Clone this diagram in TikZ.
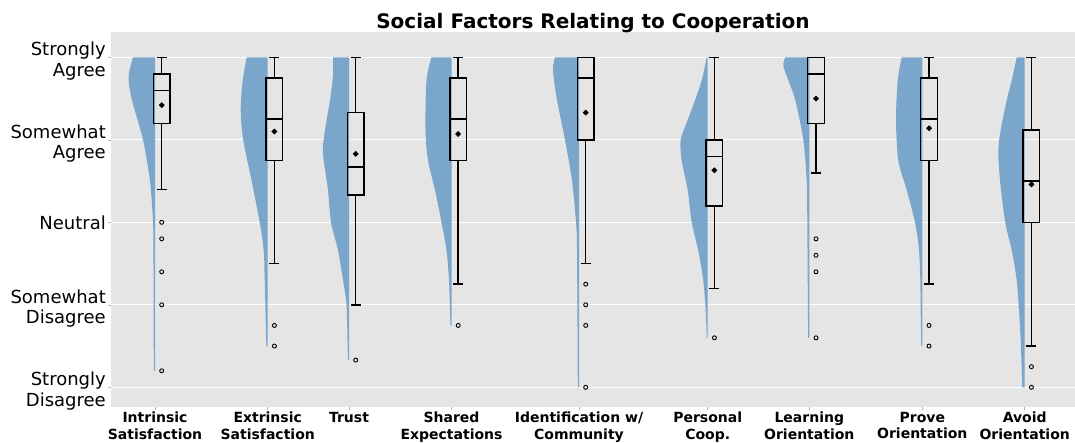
\documentclass[tikz,border=0pt]{standalone}
\usepackage{fontspec}
\setmainfont{DejaVu Sans}

\definecolor{plotbg}{RGB}{229,229,229}
\definecolor{violinblue}{RGB}{122,166,204}

\begin{document}
\begin{tikzpicture}[x=1pt, y=-1pt,
    violin/.style={fill=violinblue, draw=none},
    boxline/.style={draw=black, line width=1.5pt},
    outlier/.style={draw=black, line width=0.9pt},
    gridline/.style={draw=white, line width=0.9pt},
    tickmark/.style={draw=gray!60, line width=0.6pt},
    ylab/.style={anchor=east, align=right, inner sep=0pt, font=\fontsize{18}{20.7}\selectfont},
    xlab/.style={anchor=north, align=center, inner sep=0pt, font=\fontsize{14}{16.5}\selectfont\bfseries}]

    \useasboundingbox (0,0) rectangle (1075,442);
    \fill[plotbg] (111,32) rectangle (1075,407);

    % Likert scale: y = answer value
    \begin{scope}[shift={(0,469.8)}, y=82.5pt]
        \foreach \v in {1,...,5} {
            \draw[gridline] (111,\v) -- (1075,\v);
            \draw[tickmark] (108,\v) -- (111,\v);
        }

        % half violins
        \fill[violin, xshift=155pt] (0,5) -- plot[smooth] coordinates {(-22,5) (-26.5,4.76) (-23,4.48) (-12,4.0) (-5,3.5) (-2,3.0) (-1.5,2.5) (-1.2,1.2)} -- (0,1.2) -- cycle;
        \fill[violin, xshift=267.7pt] (0,5) -- plot[smooth] coordinates {(-21,5) (-25,4.72) (-27,4.36) (-24.5,4.0) (-16,3.5) (-8,3.0) (-4,2.66) (-3,2.3) (-1.5,1.57) (-1,1.5)} -- (0,1.5) -- cycle;
        \fill[violin, xshift=349pt] (0,5) -- plot[smooth] coordinates {(-16,5) (-16,4.78) (-19,4.48) (-24,4.12) (-26,3.84) (-21,3.39) (-18,3.0) (-11,2.66) (-6,2.3) (-2.5,2.0) (-1.5,1.57) (-1,1.33)} -- (0,1.33) -- cycle;
        \fill[violin, xshift=451.5pt] (0,5) -- plot[smooth] coordinates {(-20,5) (-25,4.72) (-26,4.12) (-23.5,3.75) (-16.5,3.39) (-10,3.0) (-5,2.66) (-2.5,2.3) (-1.5,1.93) (-1,1.75)} -- (0,1.75) -- cycle;
        \fill[violin, xshift=579pt] (0,5) -- plot[smooth] coordinates {(-24,5) (-26,4.84) (-22,4.48) (-14,4.0) (-7,3.5) (-3,3.0) (-2,2.66) (-1.2,1.0)} -- (0,1.0) -- cycle;
        \fill[violin, xshift=707.7pt] (0,5) -- plot[smooth] coordinates {(-1,5) (-6,4.72) (-12.7,4.48) (-20,4.24) (-27,4.0) (-26,3.75) (-20,3.39) (-16,3.0) (-9.5,2.66) (-4.5,2.3) (-2,1.93) (-1,1.6)} -- (0,1.6) -- cycle;
        \fill[violin, xshift=809.3pt] (0,5) -- plot[smooth] coordinates {(-24,5) (-26,4.9) (-21,4.72) (-14,4.48) (-6,4.0) (-2.6,3.5) (-2,3.0) (-1.2,1.6)} -- (0,1.6) -- cycle;
        \fill[violin, xshift=922.3pt] (0,5) -- plot[smooth] coordinates {(-20.6,5) (-24.6,4.72) (-26.3,4.24) (-24,3.75) (-15.6,3.39) (-7.3,3.0) (-3.3,2.66) (-2,2.3) (-1.5,1.81) (-1,1.5)} -- (0,1.5) -- cycle;
        \fill[violin, xshift=1024.7pt] (0,5) -- plot[smooth] coordinates {(-8,5) (-13,4.72) (-18,4.48) (-24,4.12) (-26.4,3.87) (-24.7,3.51) (-19.5,3.0) (-13,2.66) (-8,2.3) (-5.7,1.93) (-4,1.57) (-3,1.21) (-2.5,1.0)} -- (0,1.0) -- cycle;

        % boxes: x / low / q1 / median / q3 / high / mean
        \foreach \cx/\lo/\qa/\md/\qb/\hi/\mn in {155/3.4/4.2/4.6/4.8/5/4.42,
                267.7/2.5/3.75/4.25/4.75/5/4.1, 349/2.0/3.33/3.67/4.33/5/3.83,
                451.5/2.25/3.75/4.25/4.75/5/4.07, 579/2.5/4.0/4.75/5/5/4.33,
                707.7/2.2/3.2/3.8/4.0/5/3.63, 809.3/3.6/4.2/4.8/5/5/4.5,
                922.3/2.25/3.75/4.25/4.75/5/4.14, 1024.7/1.5/3.0/3.5/4.12/5/3.46} {
            \draw[boxline] (\cx+6.7,\lo) -- (\cx+6.7,\qa) (\cx+6.7,\qb) -- (\cx+6.7,\hi);
            \draw[boxline] (\cx+1.7,\lo) -- (\cx+11.7,\lo) (\cx+1.7,\hi) -- (\cx+11.7,\hi);
            \draw[boxline] (\cx-1.6,\qa) rectangle (\cx+15,\qb);
            \draw[boxline] (\cx-1.6,\md) -- (\cx+15,\md);
            \fill (\cx+6.7,\mn) +(-3pt,0pt) -- +(0pt,3pt) -- +(3pt,0pt) -- +(0pt,-3pt) -- cycle;
        }

        % outliers
        \foreach \cx/\v in {155/3.0, 155/2.8, 155/2.4, 155/2.0, 155/1.2,
                267.7/1.75, 267.7/1.5, 349/1.33, 451.5/1.75,
                579/2.25, 579/2.0, 579/1.75, 579/1.0, 707.7/1.6,
                809.3/2.8, 809.3/2.6, 809.3/2.4, 809.3/1.6,
                922.3/1.75, 922.3/1.5, 1024.7/1.25, 1024.7/1.0}
            \draw[outlier] (\cx+6.7,\v) circle[radius=2pt];
    \end{scope}

    \foreach \cx in {155,267.7,349,451.5,579,707.7,809.3,922.3,1024.7}
        \draw[tickmark] (\cx,407) -- (\cx,410);

    \node[anchor=base, font=\fontsize{20}{24}\selectfont\bfseries] (title) at (593,28.3) {Social Factors Relating to Cooperation};

    \node[ylab] (sagree) at (106,61) {Strongly\\Agree};
    \node[ylab] (wagree) at (106,143.5) {Somewhat\\Agree};
    \node[ylab] (neutral) at (106,222.5) {Neutral};
    \node[ylab] (wdisagree) at (106,308.5) {Somewhat\\Disagree};
    \node[ylab] (sdisagree) at (106,391) {Strongly\\Disagree};

    \node[xlab] (intr) at (155,412) {Intrinsic\\Satisfaction};
    \node[xlab] (extr) at (267.7,412) {Extrinsic\\Satisfaction};
    \node[xlab] (trust) at (349,412) {Trust};
    \node[xlab] (shared) at (451.5,412) {Shared\\Expectations};
    \node[xlab] (ident) at (579,412) {Identification w/\\Community};
    \node[xlab] (pers) at (707.7,412) {Personal\\Coop.};
    \node[xlab] (learn) at (809.3,412) {Learning\\Orientation};
    \node[xlab] (prove) at (922.3,412) {Prove\\Orientation};
    \node[xlab] (avoid) at (1024.7,412) {Avoid\\Orientation};
\end{tikzpicture}
\end{document}
